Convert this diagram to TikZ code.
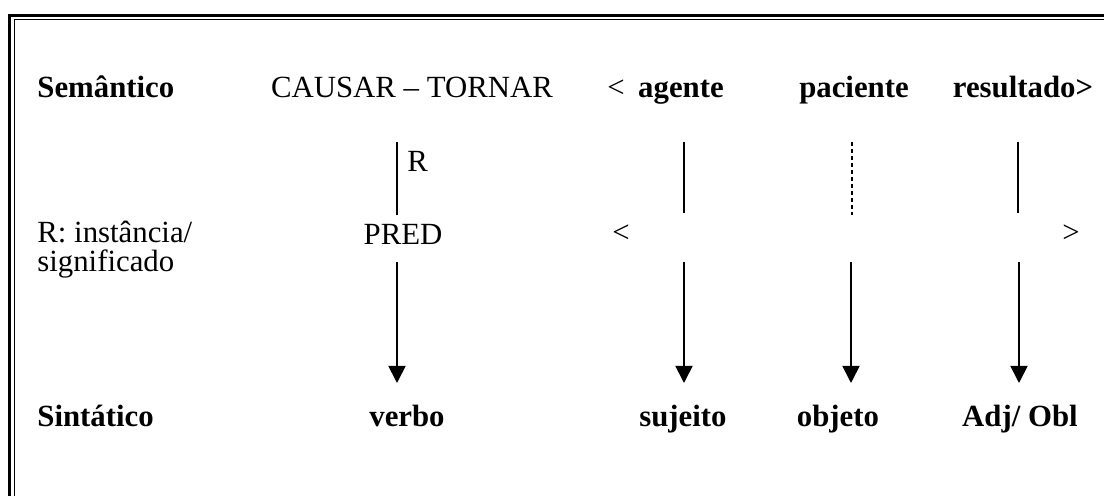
\documentclass[tikz,border=0pt]{standalone}
\usepackage{fontspec}
\setmainfont{Liberation Serif}
\usetikzlibrary{arrows.meta}

\begin{document}
\begin{tikzpicture}[x=0.5pt, y=-0.5pt, font=\fontsize{15.4}{18}\selectfont,
        word/.style={inner sep=0pt, anchor=base},
        lword/.style={inner sep=0pt, anchor=base west},
        bword/.style={word, font=\fontsize{15.4}{18}\selectfont\bfseries},
        blword/.style={lword, font=\fontsize{15.4}{18}\selectfont\bfseries},
        link/.style={line width=0.9pt},
        map/.style={line width=0.9pt, -{Triangle[width=8.5pt, length=8.5pt]}}]
        \useasboundingbox (0,0) rectangle (1104,496);
        % Double frame on the left and top
        \draw[line width=1.5pt] (9.5,496) -- (9.5,15.5) -- (1104,15.5);
        \draw[line width=0.5pt] (14,496) -- (14,20) -- (1104,20);
        % Semantic level
        \node[blword] (sem) at (37,98) {Semântico};
        \node[word] (causar) at (412,98) {CAUSAR -- TORNAR};
        \node[word] (lt1) at (616,98) {<};
        \node[bword] (agente) at (681,98) {agente};
        \node[bword] (paciente) at (854,98) {paciente};
        \node[bword] (resultado) at (1023,98) {resultado>};
        % Middle level
        \node[lword] (r) at (407,172) {R};
        \node[lword] (inst) at (37,243) {R: instância/};
        \node[lword] (signif) at (37,272) {significado};
        \node[word] (pred) at (403,245) {PRED};
        \node[word] (lt2) at (621,243) {<};
        \node[word] (gt2) at (1071,243) {>};
        % Syntactic level
        \node[blword] (sin) at (37,427) {Sintático};
        \node[bword] (verbo) at (407,427) {verbo};
        \node[bword] (sujeito) at (683,427) {sujeito};
        \node[bword] (objeto) at (838,427) {objeto};
        \node[bword] (adj) at (1020,427) {Adj/ Obl};
        % Ends of the links
        \coordinate (c1) at (397,142);   \coordinate (c2) at (397,215);
        \coordinate (a1) at (684,142);   \coordinate (a2) at (684,213);
        \coordinate (p1) at (852,142);   \coordinate (p2) at (852,215);
        \coordinate (s1) at (1018,142);  \coordinate (s2) at (1018,213);
        \coordinate (c3) at (397,262);   \coordinate (c4) at (397,383);
        \coordinate (a3) at (684,262);   \coordinate (a4) at (684,383);
        \coordinate (p3) at (851,262);   \coordinate (p4) at (851,383);
        \coordinate (s3) at (1019,262);  \coordinate (s4) at (1019,383);
        % Links between semantic and middle level
        \draw[link] (c1) -- (c2);
        \draw[link] (a1) -- (a2);
        \draw[link, dash pattern=on 2pt off 1.5pt] (p1) -- (p2);
        \draw[link] (s1) -- (s2);
        % Arrows to the syntactic level
        \draw[map] (c3) -- (c4);
        \draw[map] (a3) -- (a4);
        \draw[map] (p3) -- (p4);
        \draw[map] (s3) -- (s4);
\end{tikzpicture}
\end{document}
